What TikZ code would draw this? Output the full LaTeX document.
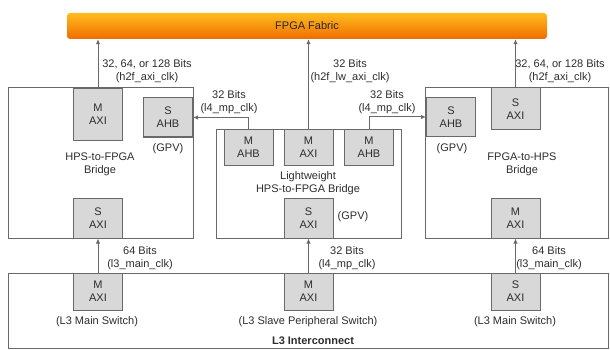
\documentclass[tikz,border=0pt]{standalone}
\usepackage{fontspec}
\setmainfont{Liberation Sans}
\usetikzlibrary{arrows.meta}

\definecolor{fabrictop}{RGB}{255,188,30}
\definecolor{fabricbot}{RGB}{240,108,0}
\definecolor{linegray}{RGB}{105,105,105}
\definecolor{portfill}{RGB}{216,216,216}
\definecolor{txtgray}{RGB}{45,45,45}

\begin{document}
\begin{tikzpicture}[
    x=1pt, y=-1pt,
    font=\fontsize{11}{13}\selectfont,
    text=txtgray,
    fabric/.style={rectangle, rounded corners=3pt, top color=fabrictop, bottom color=fabricbot, minimum width=480pt, minimum height=26pt, inner sep=0},
    bridge/.style={rectangle, draw=linegray, line width=1pt, inner sep=0},
    port/.style={rectangle, draw=linegray, fill=portfill, line width=1pt, minimum width=49pt, minimum height=40pt, inner sep=0, align=center},
    lbl/.style={align=center, inner sep=0},
    bus/.style={draw=linegray, line width=1pt, -{Latex[length=5pt,width=4.5pt]}}
]
\useasboundingbox (0,0) rectangle (610,350);

% ============================================
% FPGA FABRIC
% ============================================
\node[fabric, text=black!85] (fabric) at (307,26) {FPGA Fabric};

% ============================================
% CAJAS DE LOS PUENTES
% ============================================
\node[bridge, minimum width=185pt, minimum height=150pt] (h2f) at (100.5,163) {};
\node[bridge, minimum width=185pt, minimum height=108pt] (lw) at (308.5,184) {};
\node[bridge, minimum width=183pt, minimum height=150pt] (f2h) at (516.5,163) {};
\node[bridge, minimum width=600pt, minimum height=75pt] (l3) at (308,310.5) {};

% Titulos
\node[lbl] (h2fname) at (100,164) {HPS-to-FPGA\\Bridge};
\node[lbl] (lwname) at (308,183) {Lightweight\\HPS-to-FPGA Bridge};
\node[lbl] (f2hname) at (522,164) {FPGA-to-HPS\\Bridge};
\node[lbl, font=\fontsize{11}{13}\selectfont\bfseries] (l3name) at (313,341) {L3 Interconnect};

% ============================================
% HPS-TO-FPGA
% ============================================
\node[port, minimum height=51pt] (h2fM) at (98,114.5) {M\\AXI};
\node[port, minimum height=39pt] (h2fAHB) at (168,117.5) {S\\AHB};
\node[lbl] (h2fgpv) at (168,149) {(GPV)};
\node[port] (h2fS) at (98,218) {S\\AXI};

% ============================================
% LIGHTWEIGHT HPS-TO-FPGA
% ============================================
\node[port, minimum height=35pt] (lwAHBl) at (248.5,147.5) {M\\AHB};
\node[port, minimum height=35pt] (lwM) at (308.5,147.5) {M\\AXI};
\node[port, minimum height=35pt] (lwAHBr) at (369,147.5) {M\\AHB};
\node[port] (lwS) at (308.5,218) {S\\AXI};
\node[lbl] (lwgpv) at (353,217) {(GPV)};

% ============================================
% FPGA-TO-HPS
% ============================================
\node[port, minimum height=39pt] (f2hAHB) at (451,117) {S\\AHB};
\node[lbl] (f2hgpv) at (452,149) {(GPV)};
\node[port, minimum height=42pt] (f2hS) at (515.5,109) {S\\AXI};
\node[port] (f2hM) at (515.5,218) {M\\AXI};

% ============================================
% L3 INTERCONNECT
% ============================================
\node[port, minimum height=37pt] (l3L) at (98,291.5) {M\\AXI};
\node[port, minimum height=37pt] (l3M) at (308.5,291.5) {M\\AXI};
\node[port, minimum height=37pt] (l3R) at (515.5,291.5) {S\\AXI};
\node[lbl] (l3Lname) at (97,322) {(L3 Main Switch)};
\node[lbl] (l3Mname) at (308,322) {(L3 Slave Peripheral Switch)};
\node[lbl] (l3Rname) at (515,322) {(L3 Main Switch)};

% ============================================
% BUSES
% ============================================
\draw[bus] (h2fM.north) -- (h2fM |- fabric.south);
\draw[bus] (lwM.north) -- (lwM |- fabric.south);
\draw[bus] (f2hS.north) -- (f2hS |- fabric.south);
\draw[bus] (lwAHBl.north) |- (h2fAHB.east);
\draw[bus] (lwAHBr.north) |- (f2hAHB.west);
\draw[bus] (l3L.north) -- (h2fS.south);
\draw[bus] (l3M.north) -- (lwS.south);
\draw[bus] (l3R.north) -- (f2hM.south);

% Etiquetas de los buses
\node[lbl] (bh2f) at (147,71) {32, 64, or 128 Bits\\(h2f\_axi\_clk)};
\node[lbl] (blw) at (350,71) {32 Bits\\(h2f\_lw\_axi\_clk)};
\node[lbl] (bf2h) at (560,71) {32, 64, or 128 Bits\\(h2f\_axi\_clk)};
\node[lbl] (bgpvl) at (229,102) {32 Bits\\(l4\_mp\_clk)};
\node[lbl] (bgpvr) at (387,102) {32 Bits\\(l4\_mp\_clk)};
\node[lbl] (bl3l) at (140,258) {64 Bits\\(l3\_main\_clk)};
\node[lbl] (bl3m) at (347,258) {32 Bits\\(l4\_mp\_clk)};
\node[lbl] (bl3r) at (549,258) {64 Bits\\(l3\_main\_clk)};

\end{tikzpicture}
\end{document}
